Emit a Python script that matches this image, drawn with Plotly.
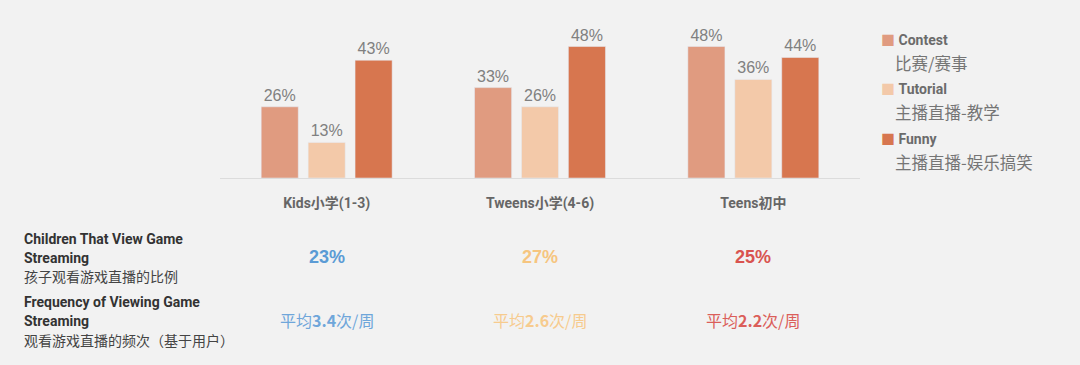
import plotly.graph_objects as go

categories = ["Kids小学(1-3)", "Tweens小学(4-6)", "Teens初中"]
series_names = ["Contest", "Tutorial", "Funny"]
series_cn = ["比赛/赛事", "主播直播-教学", "主播直播-娱乐搞笑"]
contest = [26, 33, 48]
tutorial = [13, 26, 36]
funny = [43, 48, 44]
share_viewing = ["23%", "27%", "25%"]
freq_per_week = ["3.4", "2.6", "2.2"]

colors = ["#E09B80", "#F3C9A9", "#D7764F"]
stat_colors = ["#5B9BD5", "#F6C57F", "#D9534F"]
stat_colors_light = ["#6FA6DA", "#F7CB8E", "#DB5E5A"]

W, H = 1080, 365
L, R, T, B = 220, 860, 29, 178  # plot area in pixels


def px(x):
    return (x - L) / (R - L)


def py(y):
    return (B - y) / (B - T)


BG = "#F2F2F2"
BOLDF = "Roboto, Noto Sans CJK SC, sans-serif"
SANS = "Liberation Sans, Arial, Noto Sans CJK SC, sans-serif"
CJK = "Noto Sans CJK SC, sans-serif"

fig = go.Figure()
for name, vals, col in zip(series_names, [contest, tutorial, funny], colors):
    fig.add_trace(go.Bar(
        x=categories, y=vals, name=name, marker_color=col,
        text=[f"{v}%" for v in vals], textposition="outside",
        textfont=dict(family=SANS, size=16, color="#808080"),
        cliponaxis=False, showlegend=False, hoverinfo="skip",
    ))

annotations = []
# legend
leg_y = [40, 89, 139]
for i, (n, cn, col) in enumerate(zip(series_names, series_cn, colors)):
    annotations.append(dict(
        xref="paper", yref="paper", x=px(879), y=py(leg_y[i]), xanchor="left", yanchor="middle",
        text=f"<span style='color:{col}'>■</span> <b>{n}</b>", showarrow=False,
        font=dict(family=BOLDF, size=14, color="#6B6B6B"),
    ))
    annotations.append(dict(
        xref="paper", yref="paper", x=px(893), y=py(leg_y[i] + 23), xanchor="left", yanchor="middle",
        text=cn, showarrow=False, font=dict(family=CJK, size=16.5, color="#757575"),
    ))

# left labels
left_rows = [
    ("<b>Children That View Game</b>", 239, BOLDF, 14, "#333333"),
    ("<b>Streaming</b>", 258, BOLDF, 14, "#333333"),
    ("孩子观看游戏直播的比例", 276, CJK, 14, "#444444"),
    ("<b>Frequency of Viewing Game</b>", 302, BOLDF, 14, "#333333"),
    ("<b>Streaming</b>", 321, BOLDF, 14, "#333333"),
    ("观看游戏直播的频次（基于用户）", 340, CJK, 14, "#444444"),
]
for txt, y, fam, sz, c in left_rows:
    annotations.append(dict(
        xref="paper", yref="paper", x=px(22), y=py(y), xanchor="left", yanchor="middle",
        text=txt, showarrow=False, font=dict(family=fam, size=sz, color=c),
    ))

for i, cat in enumerate(categories):
    annotations.append(dict(
        xref="x", yref="paper", x=cat, y=py(257), xanchor="center", yanchor="middle",
        text=f"<b>{share_viewing[i]}</b>", showarrow=False,
        font=dict(family=SANS, size=18, color=stat_colors[i]),
    ))
    annotations.append(dict(
        xref="x", yref="paper", x=cat, y=py(320), xanchor="center", yanchor="middle",
        text=f"平均<b>{freq_per_week[i]}</b>次/周", showarrow=False,
        font=dict(family=CJK, size=16, color=stat_colors_light[i]),
    ))

fig.update_layout(
    width=W, height=H,
    margin=dict(l=L, r=W - R, t=T, b=H - B, pad=0),
    paper_bgcolor=BG, plot_bgcolor=BG,
    barmode="group", bargap=0.34, bargroupgap=0.21,
    annotations=annotations,
    xaxis=dict(
        tickvals=categories, ticktext=[f"<b>{c}</b>" for c in categories],
        showline=True, linecolor="#DCDCDC", linewidth=1, ticks="", showgrid=False,
        tickfont=dict(family=BOLDF, size=14, color="#666666"), ticklabelstandoff=12,
        fixedrange=True,
    ),
    yaxis=dict(range=[0, 54.4], visible=False, showgrid=False, zeroline=False, fixedrange=True),
)

fig.write_html(
    "out.html",
    config={"displayModeBar": False},
    post_script="document.body.style.margin='0';document.body.style.background='#F2F2F2';",
)
